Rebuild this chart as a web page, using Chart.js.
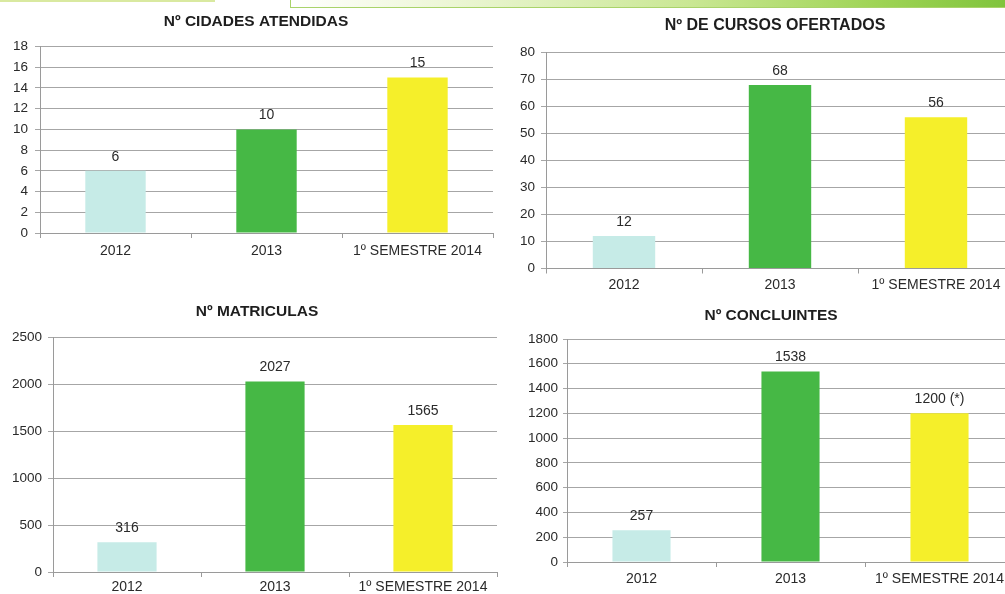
<!DOCTYPE html>
<html>
<head>
<meta charset="utf-8">
<script src="https://cdn.jsdelivr.net/npm/chart.js@4.4.1/dist/chart.umd.min.js"></script>
<style>
  html, body { margin: 0; padding: 0; background: #ffffff; }
  body { width: 1005px; height: 594px; overflow: hidden; position: relative; }
  canvas { position: absolute; }
  .topline { position: absolute; left: 0; top: 0; width: 215px; height: 2px; background: #d9e9a0; }
  .banner {
    position: absolute; left: 290px; top: -2px; width: 730px; height: 8px;
    border: 1px solid #a9d36a;
    background: linear-gradient(to right, #ffffff 0%, #eef7d9 20%, #c9e793 55%, #9fd455 80%, #7cc23a 100%);
  }
</style>
</head>
<body>
<div class="topline"></div>
<div class="banner"></div>
<canvas id="c1" width="500" height="263" style="left:0px;top:0px"></canvas>
<canvas id="c2" width="520" height="299" style="left:500px;top:0px"></canvas>
<canvas id="c3" width="500" height="308" style="left:0px;top:290px"></canvas>
<canvas id="c4" width="520" height="300" style="left:500px;top:290px"></canvas>
<script>
// Categories and values for the four panels
const categories = ['2012', '2013', '1º SEMESTRE 2014'];
const cidadesAtendidas = [6, 10, 15];
const cursosOfertados = [12, 68, 56];
const matriculas = [316, 2027, 1565];
const concluintes = [257, 1538, 1200];
const concluintesLabels = ['257', '1538', '1200 (*)'];
const barColors = ['#c6ebe7', '#46b845', '#f5ef2a'];

const FONT = '"Liberation Sans", Arial, Helvetica, sans-serif';
const TEXT = '#2a2a2a';

// Draws the number above each bar
const valueLabelPlugin = {
  id: 'valueLabels',
  afterDatasetsDraw(chart, args, opts) {
    const ctx = chart.ctx;
    const meta = chart.getDatasetMeta(0);
    const ds = chart.data.datasets[0];
    ctx.save();
    ctx.font = '14px ' + FONT;
    ctx.fillStyle = TEXT;
    ctx.textAlign = 'center';
    ctx.textBaseline = 'middle';
    meta.data.forEach((bar, i) => {
      const txt = opts.labels ? opts.labels[i] : String(ds.data[i]);
      ctx.fillText(txt, bar.x, bar.y - opts.offset);
    });
    ctx.restore();
  }
};

// Bold heading placed above each panel
const panelTitlePlugin = {
  id: 'panelTitle',
  afterDraw(chart, args, opts) {
    const ctx = chart.ctx;
    ctx.save();
    ctx.font = 'bold ' + opts.size + 'px ' + FONT;
    ctx.fillStyle = '#1e1e1e';
    ctx.textAlign = 'center';
    ctx.textBaseline = 'middle';
    ctx.fillText(opts.text, opts.x, opts.y);
    ctx.restore();
  }
};

function makePanel(id, values, p) {
  return new Chart(document.getElementById(id), {
    type: 'bar',
    data: {
      labels: categories,
      datasets: [{
        data: values,
        backgroundColor: barColors,
        borderWidth: 0,
        categoryPercentage: 1,
        barPercentage: p.barPct
      }]
    },
    plugins: [valueLabelPlugin, panelTitlePlugin],
    options: {
      responsive: false,
      animation: false,
      devicePixelRatio: 1,
      layout: { padding: { left: 0, top: p.top, right: p.right, bottom: 0 } },
      plugins: {
        legend: { display: false },
        title: { display: false },
        tooltip: { enabled: false },
        valueLabels: { labels: p.labels, offset: 14 },
        panelTitle: { text: p.title, x: p.tx, y: p.ty, size: p.tsize }
      },
      scales: {
        x: {
          ticks: { color: TEXT, font: { family: FONT, size: 14 }, padding: p.xPad, maxRotation: 0 },
          grid: { display: true, drawOnChartArea: false, drawTicks: true, tickLength: 5, color: '#9a9a9a', offset: true },
          border: { display: true, color: '#9a9a9a', width: 1 },
          afterFit(s) { s.height = p.xHeight; }
        },
        y: {
          min: 0,
          max: p.yMax,
          ticks: {
            stepSize: p.yStep, color: TEXT, font: { family: FONT, size: 13.5 }, padding: p.yPad,
            callback: v => String(v)
          },
          grid: { color: '#a6a6a6', lineWidth: 1, tickLength: p.tickLen, drawTicks: true },
          border: { display: true, color: '#9a9a9a', width: 1 },
          afterFit(s) { s.width = p.yWidth; }
        }
      }
    }
  });
}

makePanel('c1', cidadesAtendidas, {
  title: 'Nº CIDADES ATENDIDAS', tx: 256, ty: 22, tsize: 15.5,
  top: 46.5, right: 7, yWidth: 40, xHeight: 30, tickLen: 5, yPad: 7, xPad: 5,
  yMax: 18, yStep: 2, barPct: 0.4
});

makePanel('c2', cursosOfertados, {
  title: 'Nº DE CURSOS OFERTADOS', tx: 275, ty: 26, tsize: 16,
  top: 52.5, right: 6, yWidth: 46, xHeight: 30.5, tickLen: 5, yPad: 6, xPad: 3,
  yMax: 80, yStep: 10, barPct: 0.4
});

makePanel('c3', matriculas, {
  title: 'Nº MATRICULAS', tx: 257, ty: 22, tsize: 15.5,
  top: 47, right: 3, yWidth: 53, xHeight: 26, tickLen: 5, yPad: 6, xPad: 2,
  yMax: 2500, yStep: 500, barPct: 0.4
});

makePanel('c4', concluintes, {
  title: 'Nº CONCLUINTES', tx: 271, ty: 26, tsize: 15.5,
  top: 49, right: 6, yWidth: 67, xHeight: 28, tickLen: 4, yPad: 5, xPad: 4,
  yMax: 1800, yStep: 200, barPct: 0.39, labels: concluintesLabels
});
</script>
</body>
</html>
